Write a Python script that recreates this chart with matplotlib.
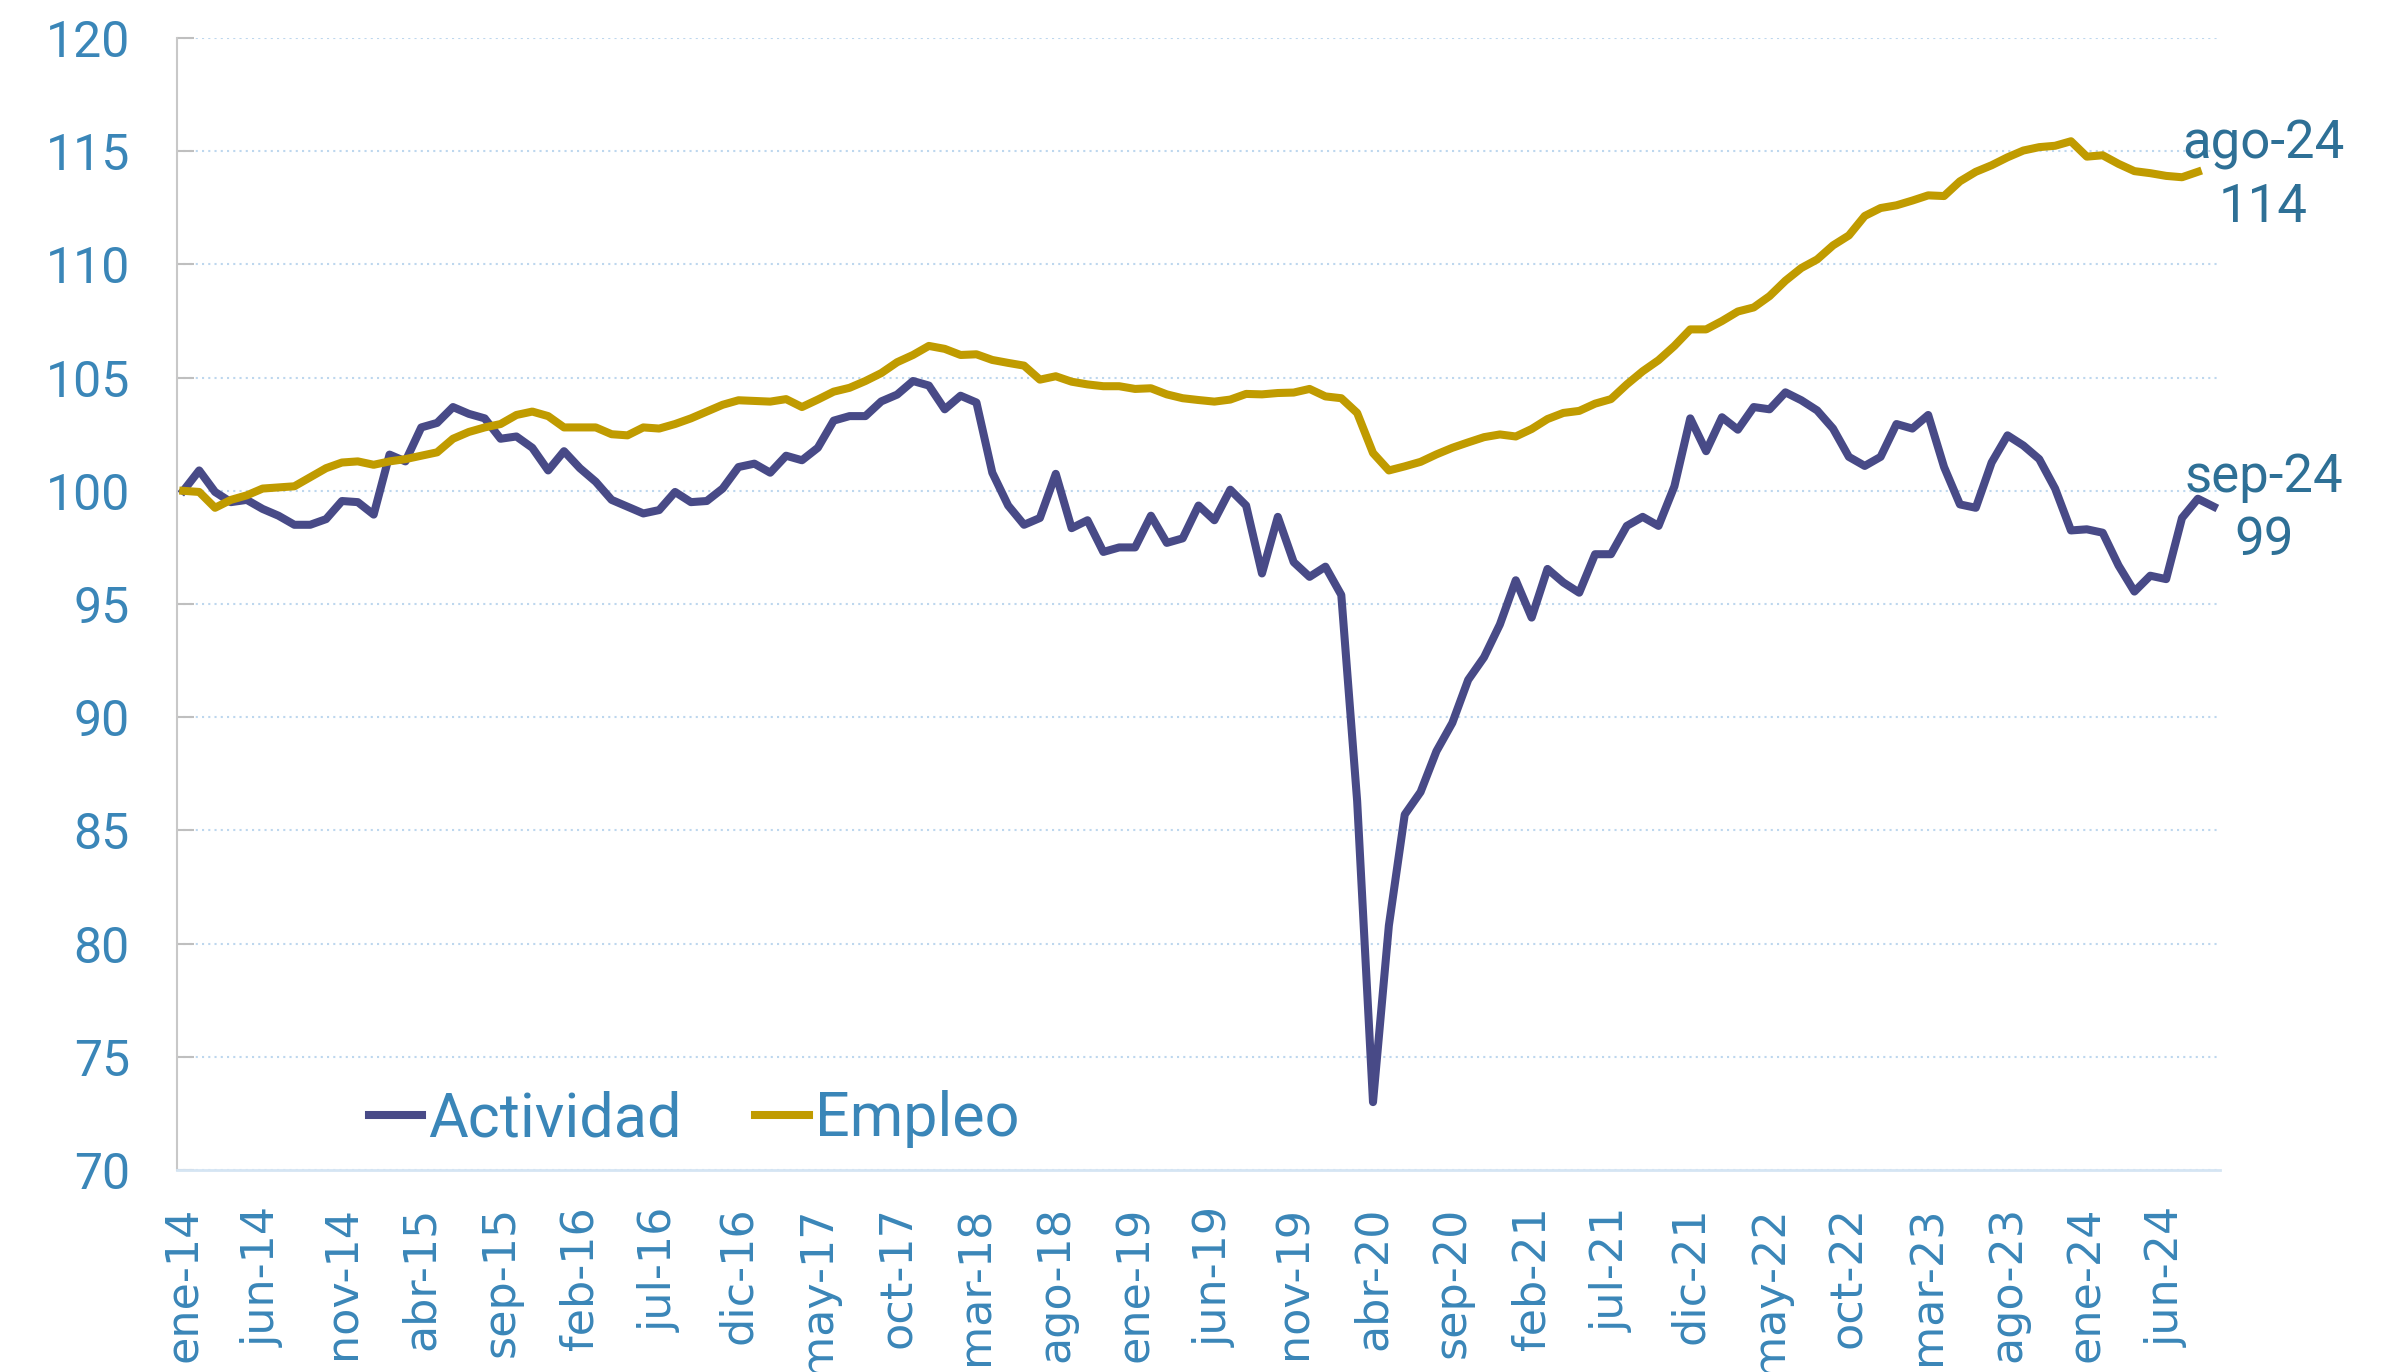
import matplotlib
matplotlib.use("Agg")
import matplotlib.pyplot as plt
import numpy as np

# monthly index (ene-14 = 100)
actividad = [
    100.0, 100.9, 99.95, 99.5, 99.6, 99.2, 98.9, 98.5, 98.5, 98.75,
    99.55, 99.5, 98.95, 101.6, 101.3, 102.8, 103.0, 103.7, 103.4, 103.2,
    102.3, 102.4, 101.9, 100.9, 101.75, 101.0, 100.4, 99.6, 99.3, 99.0,
    99.15, 99.95, 99.5, 99.55, 100.1, 101.05, 101.2, 100.8, 101.55, 101.35,
    101.9, 103.1, 103.3, 103.3, 103.95, 104.25, 104.85, 104.65, 103.6, 104.2,
    103.9, 100.8, 99.35, 98.5, 98.8, 100.75, 98.35, 98.7, 97.3, 97.5,
    97.5, 98.9, 97.7, 97.9, 99.35, 98.7, 100.05, 99.35, 96.35, 98.85,
    96.85, 96.2, 96.65, 95.4, 86.3, 73.0, 80.8, 85.7, 86.7, 88.5,
    89.75, 91.65, 92.65, 94.1, 96.05, 94.4, 96.55, 95.95, 95.5, 97.2,
    97.2, 98.45, 98.85, 98.45, 100.2, 103.2, 101.75, 103.25, 102.7, 103.7,
    103.6, 104.35, 104.0, 103.55, 102.75, 101.5, 101.1, 101.5, 102.95, 102.75,
    103.35, 101.05, 99.4, 99.25, 101.25, 102.45, 102.0, 101.4, 100.1, 98.25,
    98.3, 98.15, 96.7, 95.55, 96.25, 96.1, 98.8, 99.65, 99.3,
]
empleo = [
    100.0, 99.95, 99.25, 99.6, 99.8, 100.1, 100.15, 100.2, 100.6, 101.0,
    101.25, 101.3, 101.15, 101.3, 101.4, 101.55, 101.7, 102.3, 102.6, 102.8,
    102.95, 103.35, 103.5, 103.3, 102.8, 102.8, 102.8, 102.5, 102.45, 102.8,
    102.75, 102.95, 103.2, 103.5, 103.8, 104.0, 103.97, 103.94, 104.05, 103.7,
    104.03, 104.38, 104.55, 104.85, 105.2, 105.68, 106.0, 106.4, 106.27, 106.0,
    106.03, 105.78, 105.65, 105.53, 104.91, 105.06, 104.82, 104.7, 104.62, 104.62,
    104.5, 104.53, 104.26, 104.09, 104.01, 103.94, 104.03, 104.28, 104.26, 104.32,
    104.34, 104.5, 104.17, 104.09, 103.44, 101.67, 100.9, 101.08, 101.28, 101.61,
    101.9, 102.14, 102.37, 102.49, 102.4, 102.73, 103.17, 103.44, 103.53, 103.85,
    104.05, 104.7, 105.28, 105.77, 106.4, 107.13, 107.13, 107.5, 107.92, 108.1,
    108.6, 109.28, 109.84, 110.22, 110.84, 111.28, 112.14, 112.49, 112.61, 112.82,
    113.05, 113.02, 113.67, 114.09, 114.38, 114.73, 115.03, 115.18, 115.24, 115.44,
    114.76, 114.82, 114.44, 114.12, 114.03, 113.91, 113.85, 114.09,
]
tick_labels = [
    "ene-14", "jun-14", "nov-14", "abr-15", "sep-15", "feb-16", "jul-16",
    "dic-16", "may-17", "oct-17", "mar-18", "ago-18", "ene-19", "jun-19",
    "nov-19", "abr-20", "sep-20", "feb-21", "jul-21", "dic-21", "may-22",
    "oct-22", "mar-23", "ago-23", "ene-24", "jun-24",
]
last_act_label = "sep-24"
last_emp_label = "ago-24"

C_ACT = "#484A87"
C_EMP = "#C09B00"
C_TXT = "#3A86B8"
C_ANN = "#2E7096"

fig = plt.figure(figsize=(23.98, 13.72), dpi=100)
ax = fig.add_axes([0.0738, 0.1472, 0.852, 0.8251])

x_act = np.arange(len(actividad))
x_emp = np.arange(len(empleo))
ax.plot(x_act, actividad, color=C_ACT, lw=5.8, label="Actividad")
ax.plot(x_emp, empleo, color=C_EMP, lw=5.8, label="Empleo")

ax.set_ylim(70, 120)
ax.set_xlim(-0.4, 128.4)
ax.set_yticks(np.arange(70, 121, 5))
ax.set_xticks(np.arange(0, len(actividad), 5))
ax.set_xticklabels(tick_labels, rotation=90, fontsize=32, color=C_TXT,
                   family="DejaVu Sans")
ax.tick_params(axis="x", length=0, pad=26)
ax.tick_params(axis="y", direction="in", length=12, width=1.5, color="#BFBFBF",
               labelsize=36, labelcolor=C_TXT, pad=34)
for lab in ax.get_yticklabels():
    lab.set_family("Roboto")

ax.grid(axis="y", color="#BDD7EE", ls=(0, (1, 2)), lw=1.5)
ax.set_axisbelow(True)
for s in ["top", "right"]:
    ax.spines[s].set_visible(False)
ax.spines["left"].set_color("#C8C8C8")
ax.spines["left"].set_linewidth(1.5)
ax.spines["bottom"].set_color("#D5E5F3")
ax.spines["bottom"].set_linewidth(2)

# end-of-series labels
ax.annotate(f"{last_emp_label}\n{round(empleo[-1]):.0f}",
            xy=(x_emp[-1], empleo[-1]), xytext=(47, -3), textcoords="offset points",
            ha="center", va="center", fontsize=38, color=C_ANN, family="Roboto",
            multialignment="center", annotation_clip=False, linespacing=1.3)
ax.annotate(f"{last_act_label}\n{round(actividad[-1]):.0f}",
            xy=(x_act[-1], actividad[-1]), xytext=(36, -2), textcoords="offset points",
            ha="center", va="center", fontsize=38, color=C_ANN, family="Roboto",
            multialignment="center", annotation_clip=False, linespacing=1.3)

leg = ax.legend(loc="center left", bbox_to_anchor=(0.079, 0.045), ncol=2, frameon=False,
                borderpad=0, handlelength=0.875, handletextpad=0.1, columnspacing=1.2,
                prop={"family": "Roboto", "size": 44})
for t in leg.get_texts():
    t.set_color(C_TXT)

fig.savefig("out.png", dpi=100, facecolor="white")
